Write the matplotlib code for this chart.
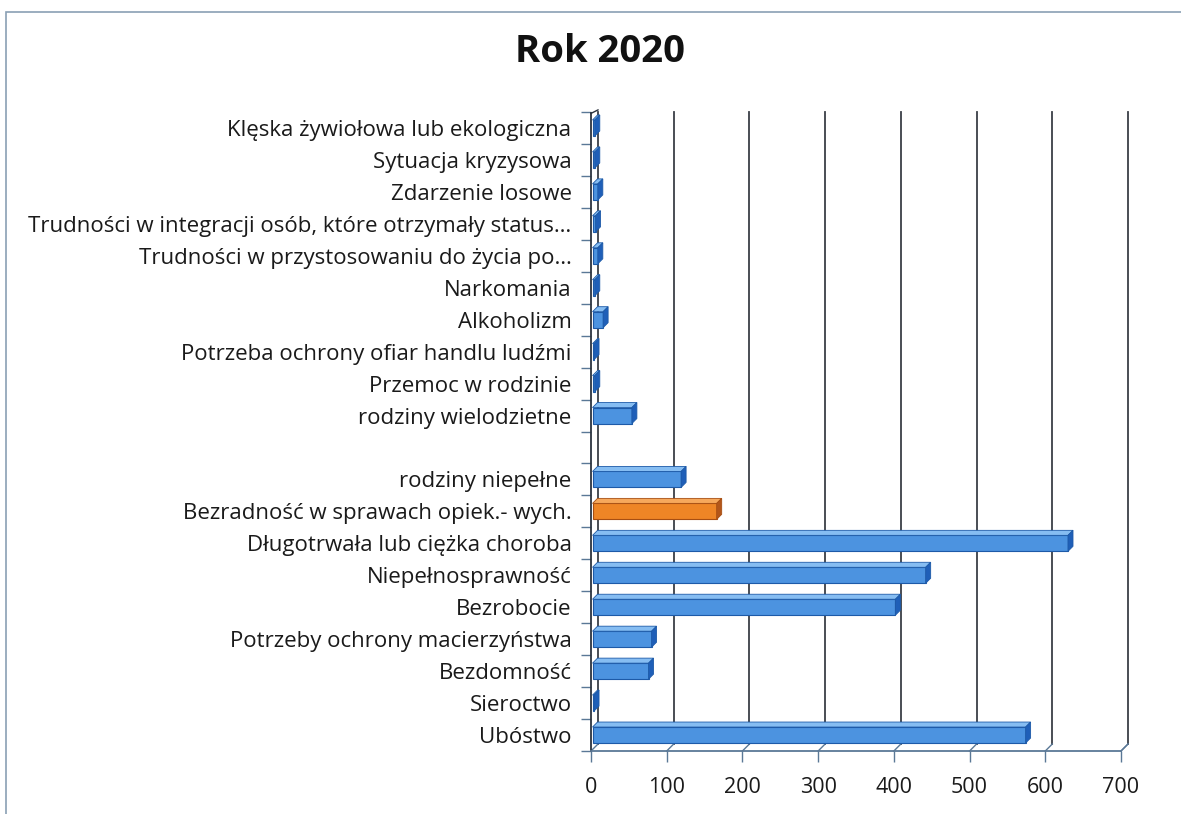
import matplotlib
matplotlib.use("Agg")
import matplotlib.pyplot as plt
from matplotlib.patches import Polygon, Rectangle

plt.rcParams["font.family"] = ["Open Sans", "DejaVu Sans"]

categories = [
    "Ubóstwo",
    "Sieroctwo",
    "Bezdomność",
    "Potrzeby ochrony macierzyństwa",
    "Bezrobocie",
    "Niepełnosprawność",
    "Długotrwała lub ciężka choroba",
    "Bezradność w sprawach opiek.- wych.",
    "rodziny niepełne",
    "",
    "rodziny wielodzietne",
    "Przemoc w rodzinie",
    "Potrzeba ochrony ofiar handlu ludźmi",
    "Alkoholizm",
    "Narkomania",
    "Trudności w przystosowaniu do życia po…",
    "Trudności w integracji osób, które otrzymały status…",
    "Zdarzenie losowe",
    "Sytuacja kryzysowa",
    "Klęska żywiołowa lub ekologiczna",
]
values = [572, 2, 74, 78, 400, 440, 628, 164, 117, 0, 52, 3, 2, 14, 3, 7, 4, 7, 3, 3]
highlight = "Bezradność w sprawach opiek.- wych."
xticks = [0, 100, 200, 300, 400, 500, 600, 700]

W, H = 1181, 814
fig = plt.figure(figsize=(W / 100, H / 100), dpi=100)

# plot area in pixels (front plane)
x0, x1 = 591, 1121
ytop, ybot = 112, 751
ax = fig.add_axes([x0 / W, 1 - ybot / H, (x1 - x0) / W, (ybot - ytop) / H])
ax.set_xlim(0, 700)
ax.set_ylim(-0.5, len(categories) - 0.5)

ppx = (x1 - x0) / 700.0
ppy = (ybot - ytop) / len(categories)
dx = 7 / ppx   # depth offset in data units
dy = 7 / ppy

# back wall gridlines + floor diagonals
for t in xticks:
    ax.plot([t + dx, t + dx], [-0.5 + dy, len(categories) - 0.5], color="#3a3f47",
            lw=1.3, zorder=1, clip_on=False)
    ax.plot([t, t + dx], [-0.5, -0.5 + dy], color="#5a7896", lw=1.0, zorder=1, clip_on=False)
# left wall
ax.plot([0, 0], [-0.5, len(categories) - 0.5 - dy * 0.2], color="#2c3440", lw=1.3, clip_on=False)
ax.plot([0, dx], [len(categories) - 0.5 - dy * 0.2, len(categories) - 0.5 + dy * 0.3],
        color="#2c3440", lw=1.0, clip_on=False)
ax.plot([0, 700], [-0.5, -0.5], color="#5a7896", lw=1.3, clip_on=False)
ax.plot([700, 700 + dx], [-0.5, -0.5 + dy], color="#5a7896", lw=1.0, clip_on=False)

bh = 0.5
bd = 5 / ppx
bdy = 5 / ppy
for i, (c, v) in enumerate(zip(categories, values)):
    if c == "":
        continue
    if c == highlight:
        face, top, side, edge = "#ee8526", "#f6a85c", "#b3561a", "#a74e12"
    else:
        face, top, side, edge = "#4c93e0", "#86bdf2", "#1f5fb8", "#1d5aa8"
    x_s = 2
    ax.add_patch(Rectangle((x_s, i - bh / 2), v, bh, facecolor=face, edgecolor=edge,
                           lw=0.8, zorder=3))
    ax.add_patch(Polygon([(x_s, i + bh / 2), (x_s + v, i + bh / 2),
                          (x_s + v + bd, i + bh / 2 + bdy), (x_s + bd, i + bh / 2 + bdy)],
                         closed=True, facecolor=top, edgecolor=edge, lw=0.6, zorder=3))
    ax.add_patch(Polygon([(x_s + v, i - bh / 2), (x_s + v + bd, i - bh / 2 + bdy),
                          (x_s + v + bd, i + bh / 2 + bdy), (x_s + v, i + bh / 2)],
                         closed=True, facecolor=side, edgecolor=edge, lw=0.6, zorder=3))

for s in ax.spines.values():
    s.set_visible(False)

ax.set_yticks(range(len(categories)))
ax.set_yticklabels(categories, fontsize=16, color="#1a1a1a")
ax.set_yticks([k - 0.5 for k in range(len(categories) + 1)], minor=True)
ax.tick_params(axis="y", which="major", length=0, pad=14)
ax.tick_params(axis="y", which="minor", length=7, color="#5a7896", width=1.0)

ax.set_xticks(xticks)
ax.set_xticklabels([str(t) for t in xticks], fontsize=15.5, color="#1a1a1a")
ax.tick_params(axis="x", length=8, color="#5a7896", width=1.0, pad=11)

fig.text(x=600 / W, y=1 - 52 / H, s="Rok 2020", fontsize=27.5, fontweight="bold",
         ha="center", va="center", color="#111111")

fig.patches.append(Rectangle((6 / W, -0.1), 1.2, 1 - 12 / H + 0.1, transform=fig.transFigure,
                             fill=False, edgecolor="#8aa0b4", lw=1.2))

fig.savefig("out.png", dpi=100)
